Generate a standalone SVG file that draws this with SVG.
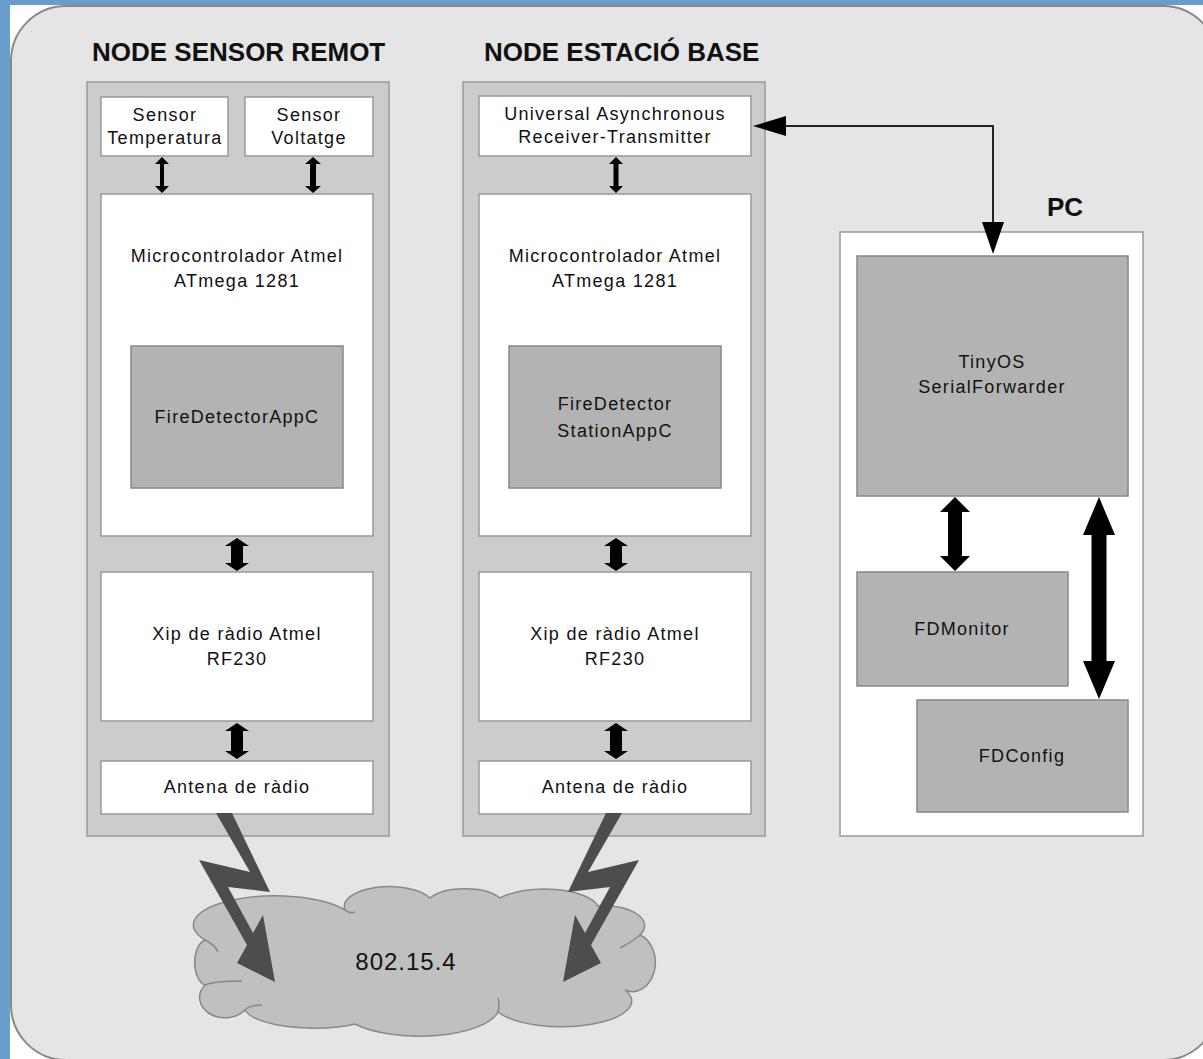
<svg xmlns="http://www.w3.org/2000/svg" width="1203" height="1059" viewBox="0 0 1203 1059">
<style>
.lbl{font-family:"Liberation Sans",Arial,sans-serif;font-size:18px;letter-spacing:1.3px;fill:#111;text-anchor:middle}
.ttl{font-family:"Liberation Sans",Arial,sans-serif;font-size:26px;font-weight:bold;fill:#111}
.panel{fill:#cccccc;stroke:#999;stroke-width:1.5}
.wbox{fill:#ffffff;stroke:#999;stroke-width:1.5}
.dbox{fill:#b3b3b3;stroke:#888;stroke-width:1.5}
.arr{fill:#000}
.bolt{fill:#4d4d4d}
.cl{fill:none;stroke:#888;stroke-width:1.5}
</style>
<rect x="0" y="0" width="1203" height="1059" fill="#ffffff"/>
<rect x="0" y="0" width="1203" height="5" fill="#6a9ccb"/>
<rect x="0" y="0" width="10" height="1059" fill="#6a9ecb"/>
<path d="M11,61 A55,55 0 0 1 66,6 L1163,6 A55,55 0 0 1 1218,61 L1218,1005 A55,55 0 0 1 1163,1060 L66,1060 A55,55 0 0 1 11,1005 Z" fill="#e5e5e5" stroke="#888" stroke-width="2"/>

<g id="node-sensor-remot">
<text class="ttl" x="92" y="61">NODE SENSOR REMOT</text>
<rect class="panel" x="87" y="82" width="302" height="754"/>
</g>
<g id="sensor-temperatura">
<rect class="wbox" x="101" y="97" width="127" height="59"/>
<text class="lbl" x="165" y="121">Sensor</text>
<text class="lbl" x="165" y="144">Temperatura</text>
</g>
<g id="sensor-voltatge">
<rect class="wbox" x="245" y="97" width="128" height="59"/>
<text class="lbl" x="309" y="121">Sensor</text>
<text class="lbl" x="309" y="144">Voltatge</text>
</g>
<g id="micro-1">
<rect class="wbox" x="101" y="194" width="272" height="342"/>
<text class="lbl" x="237" y="262">Microcontrolador Atmel</text>
<text class="lbl" x="237" y="287">ATmega 1281</text>
</g>
<g id="firedetectorappc">
<rect class="dbox" x="131" y="346" width="212" height="142"/>
<text class="lbl" x="237" y="423">FireDetectorAppC</text>
</g>
<g id="xip-1">
<rect class="wbox" x="101" y="572" width="272" height="149"/>
<text class="lbl" x="237" y="640">Xip de ràdio Atmel</text>
<text class="lbl" x="237" y="665">RF230</text>
</g>
<g id="antena-1">
<rect class="wbox" x="101" y="761" width="272" height="53"/>
<text class="lbl" x="237" y="793">Antena de ràdio</text>
</g>

<g id="node-estacio-base">
<text class="ttl" x="484" y="61">NODE ESTACIÓ BASE</text>
<rect class="panel" x="463" y="82" width="302" height="754"/>
</g>
<g id="uart">
<rect class="wbox" x="479" y="96" width="272" height="60"/>
<text class="lbl" x="615" y="120">Universal Asynchronous</text>
<text class="lbl" x="615" y="143">Receiver-Transmitter</text>
</g>
<g id="micro-2">
<rect class="wbox" x="479" y="194" width="272" height="342"/>
<text class="lbl" x="615" y="262">Microcontrolador Atmel</text>
<text class="lbl" x="615" y="287">ATmega 1281</text>
</g>
<g id="firedetectorstationappc">
<rect class="dbox" x="509" y="346" width="212" height="142"/>
<text class="lbl" x="615" y="410">FireDetector</text>
<text class="lbl" x="615" y="437">StationAppC</text>
</g>
<g id="xip-2">
<rect class="wbox" x="479" y="572" width="272" height="149"/>
<text class="lbl" x="615" y="640">Xip de ràdio Atmel</text>
<text class="lbl" x="615" y="665">RF230</text>
</g>
<g id="antena-2">
<rect class="wbox" x="479" y="761" width="272" height="53"/>
<text class="lbl" x="615" y="793">Antena de ràdio</text>
</g>

<g id="pc">
<text class="ttl" x="1047" y="216">PC</text>
<rect class="wbox" x="840" y="232" width="303" height="604"/>
</g>
<g id="tinyos">
<rect class="dbox" x="857" y="256" width="271" height="240"/>
<text class="lbl" x="992" y="368">TinyOS</text>
<text class="lbl" x="992" y="393">SerialForwarder</text>
</g>
<g id="fdmonitor">
<rect class="dbox" x="857" y="572" width="211" height="114"/>
<text class="lbl" x="962" y="635">FDMonitor</text>
</g>
<g id="fdconfig">
<rect class="dbox" x="917" y="700" width="211" height="112"/>
<text class="lbl" x="1022" y="762">FDConfig</text>
</g>

<g id="network">
<path d="M205,940 A70,25 0 0 1 345,910 A45,20 0 0 1 430,898 A40,18 0 0 1 500,898 A55,22 0 0 1 598,906 A40,20 0 0 1 640,935 A22,28 0 0 1 625,990 A60,22 0 0 1 498,1012 A80,30 0 0 1 355,1024 A70,22 0 0 1 245,1010 A25,20 0 0 1 205,985 A13,23 0 0 1 205,940 Z" fill="#c0c0c0" stroke="#888" stroke-width="1.5"/>
<path class="cl" d="M345,910 Q350,914 355,912"/>
<path class="cl" d="M205,940 Q215,945 218,952"/>
<path class="cl" d="M205,985 Q215,981 242,981"/>
<path class="cl" d="M640,935 Q632,942 620,948"/>
<path class="cl" d="M498,1012 Q500,1005 498,998"/>
<path class="cl" d="M245,1010 Q250,1005 262,1005"/>
<text class="lbl" x="406" y="970" style="font-size:24px;letter-spacing:1px">802.15.4</text>
</g>

<g id="connectors">
<polygon class="arr" points="162,157 169,164 164,164 164,186 169,186 162,193 155,186 160,186 160,164 155,164"/>
<polygon class="arr" points="313,157 321,164 316,164 316,186 321,186 313,193 305,186 310,186 310,164 305,164"/>
<polygon class="arr" points="616,157 623,164 618.5,164 618.5,186 623,186 616,193 609,186 613.5,186 613.5,164 609,164"/>
<polygon class="arr" points="237,538 249,546 243,546 243,563 249,563 237,571 225,563 231,563 231,546 225,546"/>
<polygon class="arr" points="616,538 628,546 622,546 622,563 628,563 616,571 604,563 610,563 610,546 604,546"/>
<polygon class="arr" points="237,723 249,731 243,731 243,751 249,751 237,759 225,751 231,751 231,731 225,731"/>
<polygon class="arr" points="616,723 628,731 622,731 622,751 628,751 616,759 604,751 610,751 610,731 604,731"/>
<polygon class="arr" points="955,497 970,512 962,512 962,556 970,556 955,571 940,556 948,556 948,512 940,512"/>
<polygon class="arr" points="1099,497 1115,535 1106.5,535 1106.5,661 1115,661 1099,699 1083,661 1091.5,661 1091.5,535 1083,535"/>
<polyline points="784,126 993,126 993,224" fill="none" stroke="#222" stroke-width="2"/>
<polygon class="arr" points="753,126 786,116 786,136"/>
<polygon class="arr" points="993,254 982,222 1004,222"/>
<polygon class="bolt" points="216,813 232,813 270,892 228,887 253,933 263,915 275,982 237,963 247,945 199,860 250,872"/>
<polygon class="bolt" points="622,813 606,813 568,892 610,887 585,933 575,915 563,982 601,963 591,945 639,860 588,872"/>
</g>
</svg>
